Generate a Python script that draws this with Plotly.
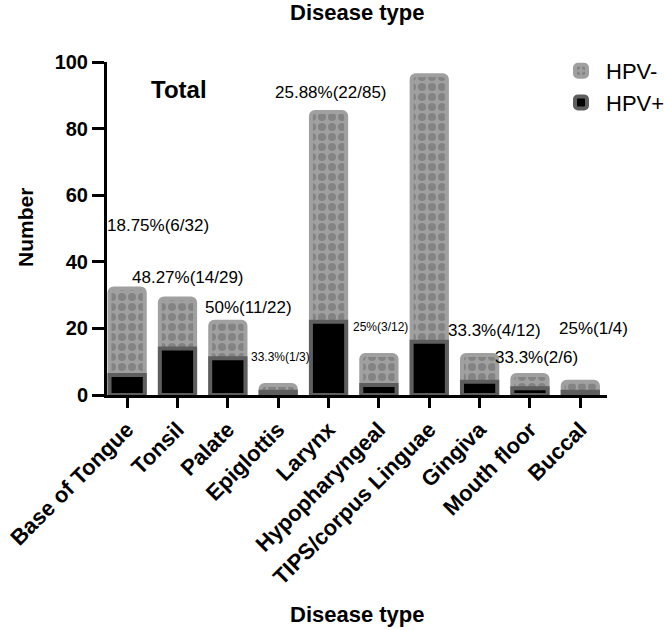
import plotly.graph_objects as go

categories = ["Base of Tongue", "Tonsil", "Palate", "Epiglottis", "Larynx",
              "Hypopharyngeal", "TIPS/corpus Linguae", "Gingiva", "Mouth floor", "Buccal"]
total = [32, 29, 22, 3, 85, 12, 96, 12, 6, 4]
hpv_pos = [6, 14, 11, 1, 22, 3, 16, 4, 2, 1]
pct_labels = ["18.75%(6/32)", "48.27%(14/29)", "50%(11/22)", "33.3%(1/3)", "25.88%(22/85)",
              "25%(3/12)", "16.67%(16/96)", "33.3%(4/12)", "33.3%(2/6)", "25%(1/4)"]
label_x = [0.62, 1.2, 2.42, 3.04, 4.05, 5.04, 6.0, 7.3, 8.13, 9.27]
label_y = [51, 35.4, 26.4, 11.4, 90.7, 20.4, 102, 19.5, 11.4, 20.1]
label_size = [17, 17, 17, 12, 17, 12, 17, 17, 17, 17]

FONT = "Arial, Liberation Sans, sans-serif"
W, H = 664, 630
ML, MT = 107, 62
MR = W - 607
MB = H - 395


def px_to_paper_x(px):
    return (px - ML) / (W - ML - MR)


def px_to_paper_y(py):
    return (H - MB - py) / (H - MT - MB)


fig = go.Figure()
fig.add_trace(go.Bar(
    x=categories, y=total, name="HPV-", width=0.7,
    marker=dict(color="#a0a0a0", cornerradius=4,
                line=dict(color="#a0a0a0", width=4),
                pattern=dict(shape=".", fgcolor="#666666", bgcolor="#a0a0a0",
                             size=10, solidity=0.5, fillmode="overlay")),
))
fig.add_trace(go.Bar(
    x=categories, y=hpv_pos, name="HPV+", width=0.7,
    marker=dict(color="#000000", cornerradius=4,
                line=dict(color="#5e5e5e", width=4)),
))

annotations = []
for t, xx, yy, s in zip(pct_labels, label_x, label_y, label_size):
    annotations.append(dict(x=xx, y=yy, xref="x", yref="y", text=t, showarrow=False,
                            xanchor="center", yanchor="middle",
                            font=dict(family=FONT, size=s, color="black")))
annotations.append(dict(x=1.03, y=91.6, xref="x", yref="y", text="<b>Total</b>", showarrow=False,
                        xanchor="center", yanchor="middle",
                        font=dict(family=FONT, size=24, color="black")))
annotations.append(dict(x=px_to_paper_x(357), y=px_to_paper_y(614), xref="paper", yref="paper",
                        text="<b>Disease type</b>", showarrow=False,
                        xanchor="center", yanchor="middle",
                        font=dict(family=FONT, size=22, color="black")))
annotations.append(dict(x=px_to_paper_x(357), y=px_to_paper_y(12), xref="paper", yref="paper",
                        text="<b>Disease type</b>", showarrow=False,
                        xanchor="center", yanchor="middle",
                        font=dict(family=FONT, size=22, color="black")))
annotations.append(dict(x=px_to_paper_x(25), y=px_to_paper_y(228), xref="paper", yref="paper",
                        text="<b>Number</b>", showarrow=False, textangle=-90,
                        xanchor="center", yanchor="middle",
                        font=dict(family=FONT, size=21, color="black")))

fig.update_layout(
    width=W, height=H,
    margin=dict(l=ML, r=MR, t=MT, b=MB, autoexpand=False),
    barmode="overlay",
    plot_bgcolor="white", paper_bgcolor="white",
    font=dict(family=FONT, color="black"),
    showlegend=True,
    legend=dict(x=px_to_paper_x(556), y=px_to_paper_y(50), xanchor="left", yanchor="top",
                font=dict(family=FONT, size=22, color="black"),
                bgcolor="rgba(0,0,0,0)", itemwidth=40, tracegroupgap=8),
    xaxis=dict(range=[-0.4, 9.53], showline=True, linecolor="black", linewidth=3,
               ticks="outside", ticklen=10, tickwidth=3, tickcolor="black",
               tickangle=-45, tickfont=dict(family=FONT, size=22, color="black", weight="bold"),
               showgrid=False, zeroline=False, automargin=False),
    yaxis=dict(range=[0, 100], dtick=20, showline=True, linecolor="black", linewidth=3,
               ticks="outside", ticklen=12, tickwidth=3, tickcolor="black",
               tickfont=dict(family=FONT, size=20, color="black", weight="bold"),
               showgrid=False, zeroline=False, automargin=False),
    annotations=annotations,
)

fig.write_html("out.html", config={"displayModeBar": False},
               post_script="document.body.style.margin='0';document.body.style.padding='0';")
